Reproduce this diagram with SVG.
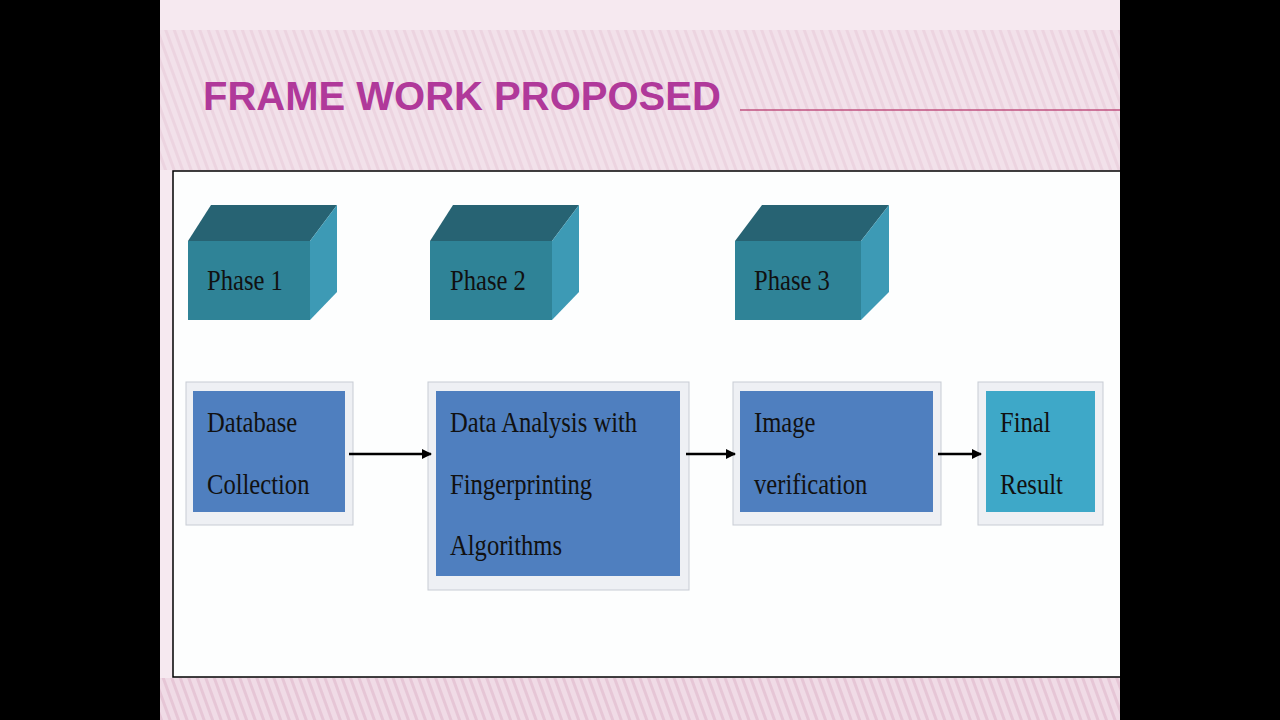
<svg xmlns="http://www.w3.org/2000/svg" width="1280" height="720" viewBox="0 0 1280 720">
<defs>
<pattern id="st" width="8" height="8" patternUnits="userSpaceOnUse" patternTransform="rotate(-20)"><rect width="8" height="8" fill="#f0dbe6"/><rect width="3" height="8" fill="#e6c6d6"/></pattern>
<marker id="ah" markerWidth="10" markerHeight="10" refX="9" refY="5" orient="auto" markerUnits="userSpaceOnUse"><path d="M0,0 L10,5 L0,10 Z" fill="#000"/></marker>
</defs>
<style>
.t{font-family:"Liberation Serif",serif;font-size:30px;fill:#111}
.front{fill:#2f8397}.top{fill:#276373}.side{fill:#3d9ab5}
.fr{fill:#eef0f4;stroke:#c8ccd4}
.bx{fill:#4f7fbf}
</style>
<rect width="1280" height="720" fill="#000"/>
<rect x="160" y="0" width="960" height="720" fill="#f6e9f0"/>
<rect x="160" y="30" width="960" height="140" fill="url(#st)" opacity="0.6"/>
<rect x="160" y="678" width="960" height="42" fill="url(#st)"/>
<text x="203" y="110" font-family="Liberation Sans Narrow,Liberation Sans,sans-serif" font-weight="bold" font-size="40" fill="#b0399a">FRAME WORK PROPOSED</text>
<line x1="740" y1="110" x2="1120" y2="110" stroke="#c0507f" stroke-width="1.5"/>
<rect x="173" y="171" width="960" height="506" fill="#fdfefe" stroke="#000" stroke-width="1.5"/>
<g id="phase1">
<polygon class="top" points="188,241 211,205 337,205 310,241"/>
<polygon class="side" points="310,241 337,205 337,292 310,320"/>
<rect class="front" x="188" y="241" width="122" height="79"/>
<text class="t" transform="translate(207,290) scale(0.82,1)">Phase 1</text>
</g>
<g id="phase2">
<polygon class="top" points="430,241 453,205 579,205 552,241"/>
<polygon class="side" points="552,241 579,205 579,292 552,320"/>
<rect class="front" x="430" y="241" width="122" height="79"/>
<text class="t" transform="translate(450,290) scale(0.82,1)">Phase 2</text>
</g>
<g id="phase3">
<polygon class="top" points="735,241 762,205 889,205 861,241"/>
<polygon class="side" points="861,241 889,205 889,292 861,320"/>
<rect class="front" x="735" y="241" width="126" height="79"/>
<text class="t" transform="translate(754,290) scale(0.82,1)">Phase 3</text>
</g>
<g id="db">
<rect class="fr" x="186" y="382" width="167" height="143"/>
<rect class="bx" x="193" y="391" width="152" height="121"/>
<text class="t" transform="translate(207,432) scale(0.82,1)">Database</text>
<text class="t" transform="translate(207,494) scale(0.82,1)">Collection</text>
</g>
<g id="analysis">
<rect class="fr" x="428" y="382" width="261" height="208"/>
<rect class="bx" x="436" y="391" width="244" height="185"/>
<text class="t" transform="translate(450,432) scale(0.82,1)">Data  Analysis  with</text>
<text class="t" transform="translate(450,494) scale(0.82,1)">Fingerprinting</text>
<text class="t" transform="translate(450,555) scale(0.82,1)">Algorithms</text>
</g>
<g id="verify">
<rect class="fr" x="733" y="382" width="208" height="143"/>
<rect class="bx" x="740" y="391" width="193" height="121"/>
<text class="t" transform="translate(754,432) scale(0.82,1)">Image</text>
<text class="t" transform="translate(754,494) scale(0.82,1)">verification</text>
</g>
<g id="result">
<rect class="fr" x="978" y="382" width="125" height="143"/>
<rect x="986" y="391" width="109" height="121" fill="#3ea8c8"/>
<text class="t" transform="translate(1000,432) scale(0.82,1)">Final</text>
<text class="t" transform="translate(1000,494) scale(0.82,1)">Result</text>
</g>
<g id="connectors" stroke="#000" stroke-width="2.5" marker-end="url(#ah)">
<line x1="349" y1="454" x2="431" y2="454"/>
<line x1="686" y1="454" x2="735" y2="454"/>
<line x1="938" y1="454" x2="981" y2="454"/>
</g>
<rect x="1120" y="0" width="160" height="720" fill="#000"/>
</svg>
